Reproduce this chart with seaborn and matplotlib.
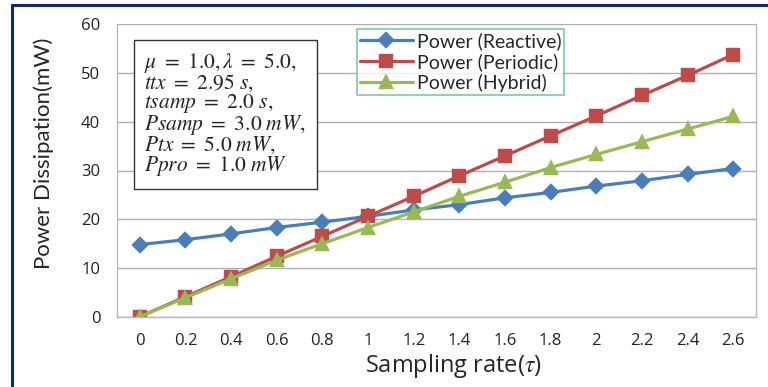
import numpy as np
import pandas as pd
import seaborn as sns
import matplotlib.pyplot as plt
from matplotlib.lines import Line2D

# data
rates = ['0', '0.2', '0.4', '0.6', '0.8', '1', '1.2', '1.4', '1.6', '1.8', '2', '2.2', '2.4', '2.6']
reactive = [14.8, 15.8, 17.0, 18.3, 19.4, 20.6, 21.9, 23.0, 24.4, 25.5, 26.8, 27.9, 29.2, 30.4]
periodic = [0.0, 4.1, 8.2, 12.4, 16.5, 20.6, 24.7, 28.9, 33.0, 37.1, 41.2, 45.4, 49.5, 53.8]
hybrid = [0.0, 3.9, 7.8, 11.6, 15.0, 18.3, 21.5, 24.7, 27.6, 30.6, 33.3, 35.9, 38.5, 41.1]
series_names = ['Power (Reactive)', 'Power (Periodic)', 'Power (Hybrid)']
params_text = [r'$\mu\ =\ 1.0, \lambda\ =\ 5.0,$',
               r'$ttx\ =\ 2.95\ s,$',
               r'$tsamp\ =\ 2.0\ s,$',
               r'$Psamp\ =\ 3.0\ mW,$',
               r'$Ptx\ =\ 5.0\ mW,$',
               r'$Ppro\ =\ 1.0\ mW$']

df = pd.DataFrame({
    'rate': rates * 3,
    'power': reactive + periodic + hybrid,
    'series': np.repeat(series_names, len(rates)),
})

sns.set_style('white')
plt.rcParams['font.family'] = ['Lato', 'DejaVu Sans']
plt.rcParams['mathtext.fontset'] = 'stix'

fig = plt.figure(figsize=(7.68, 3.87), dpi=100)
ax = fig.add_axes([117 / 768, 1 - 316.7 / 387, (756 - 117) / 768, (316.7 - 24.3) / 387])

colors = ['#4A7EBB', '#BE4B48', '#98B954']
sns.pointplot(data=df, x='rate', y='power', hue='series', order=rates,
              hue_order=series_names, palette=colors, markers=['D', 's', '^'],
              linestyles=['-', '-', '-'], errorbar=None, markersize=9,
              linewidth=2.3, ax=ax)
for ln in ax.lines:
    if ln.get_marker() == 'D':
        ln.set_markersize(7.5)

ax.set_xlim(-0.5, len(rates) - 0.5)
ax.set_ylim(0, 60)
ax.set_yticks(range(0, 61, 10))
ax.yaxis.grid(True, color='#b0b0b0', linewidth=1)
ax.xaxis.grid(False)
for s in ax.spines.values():
    s.set_color('#b8b8b8')
    s.set_linewidth(1)
ax.spines['top'].set_visible(False)
ax.set_xticks(np.arange(-0.5, len(rates), 1), minor=True)
ax.tick_params(axis='x', which='minor', length=6, color='#b0b0b0')
ax.tick_params(axis='y', which='major', length=6, color='#b0b0b0', labelsize=12, pad=6)
ax.tick_params(axis='x', which='major', length=0, labelsize=12, pad=12)
ax.set_xlabel(r'Sampling rate($\tau$)', fontsize=17, family='Open Sans')
ax.set_ylabel('Power Dissipation(mW)', fontsize=16)
ax.xaxis.set_label_coords(0.527, -0.12)
ax.yaxis.set_label_coords(-0.099, 0.56)

handles, labels = ax.get_legend_handles_labels()
for h in handles:
    if h.get_marker() == 'D':
        h.set_markersize(7.5)
leg = ax.legend(handles, labels, loc='upper left', bbox_to_anchor=(0.376, 0.983),
                fontsize=14, frameon=True, fancybox=False, handlelength=2.7,
                borderpad=0.15, labelspacing=0.15, handletextpad=0.2, borderaxespad=0)
leg.get_frame().set_edgecolor('#5cbf7e')
leg.get_frame().set_linewidth(1.2)

ax.text(0.043, 0.91, '\n'.join(params_text), transform=ax.transAxes, ha='left', va='top',
        fontsize=15.5, linespacing=0.88,
        bbox=dict(boxstyle='square,pad=0.5', facecolor='white', edgecolor='#333333', linewidth=1))

# outer frame lines
fig.add_artist(Line2D([12 / 768, 12 / 768], [0, 1 - 4.5 / 387], color='#0d2a6e', linewidth=2.2))
fig.add_artist(Line2D([12 / 768, 1], [1 - 4.5 / 387, 1 - 4.5 / 387], color='#0d2a6e', linewidth=2.2))

fig.canvas.draw()
for t in ax.get_xticklabels() + ax.get_yticklabels():
    t.set_family('Open Sans')
    t.set_color('#222222')

fig.savefig('out.png', dpi=100)
